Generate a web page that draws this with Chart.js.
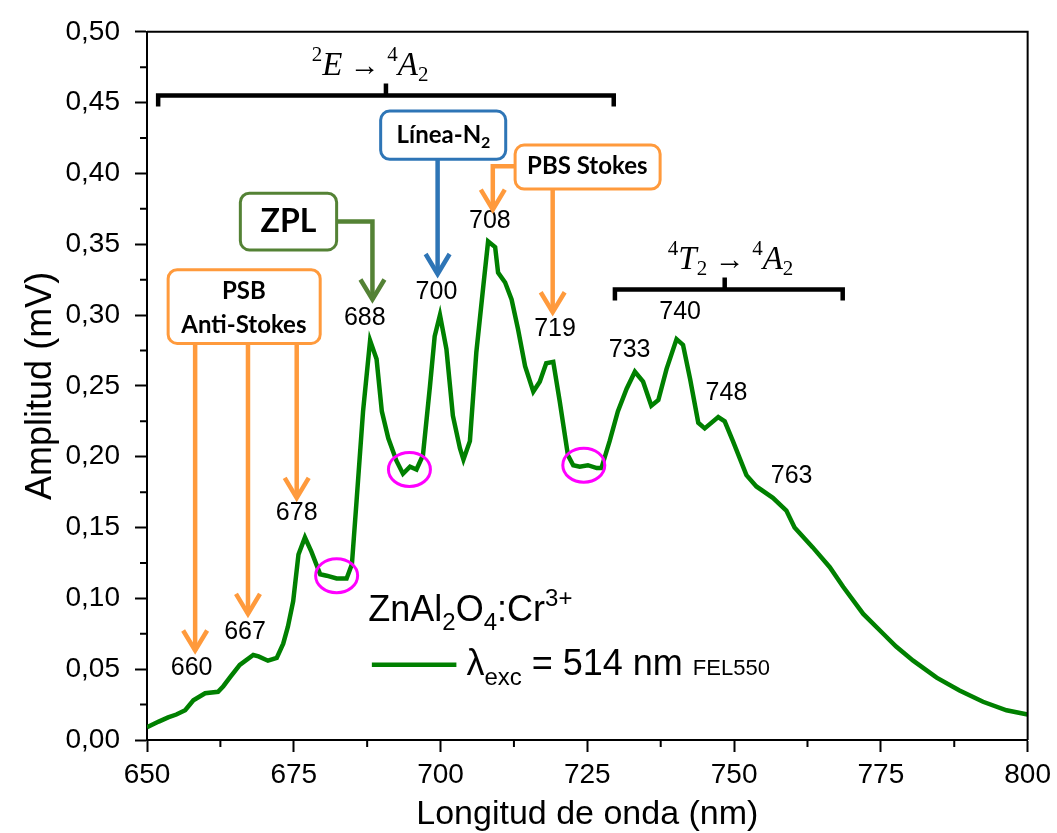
<!DOCTYPE html>
<html>
<head>
<meta charset="utf-8">
<script src="https://cdn.jsdelivr.net/npm/chart.js@4"></script>
<style>
  body { margin: 0; background: #fff; }
</style>
</head>
<body>
<canvas id="spectrum" width="1057" height="833"></canvas>
<script>
// Emission spectrum: wavelength (nm) / amplitude (mV)
const wavelength = [650.0, 652.0, 653.6, 655.0, 656.5, 657.9, 659.9, 662.1, 663.0, 664.1,
  665.8, 668.1, 669.0, 670.6, 672.1, 673.2, 674.0, 674.9, 675.8, 676.9,
  678.0, 679.5, 680.6, 682.3, 684.0, 684.9, 685.7, 686.8, 688.0, 689.1,
  690.0, 691.1, 692.5, 693.6, 694.8, 695.9, 697.0, 698.2, 699.0, 699.9,
  701.0, 702.1, 703.3, 703.9, 705.0, 706.1, 707.3, 708.1, 709.3, 709.8,
  711.0, 712.1, 713.2, 714.4, 715.8, 716.9, 718.0, 719.2, 720.3, 721.7,
  722.6, 723.7, 725.1, 726.6, 727.4, 728.8, 730.2, 731.7, 733.1, 734.5,
  735.9, 737.1, 738.5, 740.2, 741.3, 742.5, 743.9, 745.0, 747.3, 748.4,
  749.8, 752.1, 753.8, 756.6, 758.9, 760.3, 763.4, 766.3, 768.6, 772.0,
  775.4, 777.6, 780.5, 784.5, 788.4, 792.4, 796.4, 800.0];
const amplitude = [0.009, 0.013, 0.016, 0.018, 0.021, 0.028, 0.033, 0.034, 0.038, 0.044,
  0.053, 0.060, 0.059, 0.056, 0.058, 0.068, 0.080, 0.098, 0.131, 0.143,
  0.133, 0.117, 0.116, 0.114, 0.114, 0.124, 0.169, 0.232, 0.282, 0.269,
  0.232, 0.213, 0.197, 0.188, 0.193, 0.191, 0.201, 0.250, 0.285, 0.300,
  0.276, 0.229, 0.206, 0.198, 0.211, 0.274, 0.321, 0.352, 0.348, 0.330,
  0.323, 0.311, 0.290, 0.264, 0.246, 0.253, 0.266, 0.267, 0.239, 0.201,
  0.194, 0.193, 0.194, 0.192, 0.192, 0.211, 0.232, 0.248, 0.260, 0.253,
  0.236, 0.240, 0.262, 0.283, 0.279, 0.255, 0.224, 0.220, 0.228, 0.225,
  0.211, 0.187, 0.179, 0.171, 0.162, 0.150, 0.136, 0.122, 0.108, 0.089,
  0.075, 0.066, 0.056, 0.044, 0.035, 0.027, 0.021, 0.018];

const xTicks = [650, 675, 700, 725, 750, 775, 800];
const yTicks = [0, 0.05, 0.10, 0.15, 0.20, 0.25, 0.30, 0.35, 0.40, 0.45, 0.50];

// peak labels (nm, mV of the label centre)
const peakNames = ['660', '667', '678', '688', '700', '708', '719', '733', '740', '748', '763'];
const peakLabelX = [657.6, 666.7, 675.5, 687.1, 699.3, 708.4, 719.5, 732.2, 740.8, 748.7, 759.8];
const peakLabelY = [0.051, 0.076, 0.160, 0.298, 0.316, 0.366, 0.290, 0.275, 0.302, 0.245, 0.186];

// circled dips
const dipX = [682.3, 694.7, 724.4];
const dipY = [0.116, 0.191, 0.194];

const SANS = '"Liberation Sans", Arial, sans-serif';
const BOLD = 'Lato, "Open Sans", sans-serif';
const SERIF = '"Liberation Serif", "DejaVu Serif", serif';
const LINE_GREEN = '#008000';
const ORANGE = '#ff9a3c';
const BLUE = '#2e75b6';
const OLIVE = '#548235';
const MAGENTA = '#ff00ff';

// text made of pieces with different fonts / vertical shifts (sub & superscripts)
function rich(ctx, parts, x, y, align) {
  let total = 0;
  parts.forEach(p => { ctx.font = p.f; p.w = ctx.measureText(p.t).width; total += p.w; });
  let cx = align === 'center' ? x - total / 2 : x;
  ctx.textAlign = 'left';
  ctx.textBaseline = 'alphabetic';
  parts.forEach(p => {
    ctx.font = p.f;
    ctx.fillText(p.t, cx, y + (p.dy || 0));
    cx += p.w;
  });
}

function arrow(ctx, pts, color) {
  ctx.strokeStyle = color;
  ctx.lineWidth = 4.5;
  ctx.lineJoin = 'miter';
  ctx.beginPath();
  pts.forEach(([x, y], i) => i ? ctx.lineTo(x, y) : ctx.moveTo(x, y));
  ctx.stroke();
  const [tx, ty] = pts[pts.length - 1];
  ctx.beginPath();
  ctx.moveTo(tx - 12, ty - 20);
  ctx.lineTo(tx, ty);
  ctx.lineTo(tx + 12, ty - 20);
  ctx.stroke();
}

function box(ctx, x1, y1, x2, y2, color) {
  ctx.beginPath();
  ctx.roundRect(x1, y1, x2 - x1, y2 - y1, 9);
  ctx.fillStyle = '#fff';
  ctx.fill();
  ctx.strokeStyle = color;
  ctx.lineWidth = 3;
  ctx.stroke();
}

function bracket(ctx, x1, x2, y, xm) {
  ctx.strokeStyle = '#000';
  ctx.lineWidth = 4.5;
  ctx.lineJoin = 'miter';
  ctx.beginPath();
  ctx.moveTo(x1, y + 11);
  ctx.lineTo(x1, y);
  ctx.lineTo(x2, y);
  ctx.lineTo(x2, y + 11);
  ctx.moveTo(xm, y);
  ctx.lineTo(xm, y - 12);
  ctx.stroke();
}

// closed frame + minor ticks
const frame = {
  id: 'frame',
  afterDraw(chart) {
    const { ctx, chartArea: a, scales: { x, y } } = chart;
    ctx.save();
    ctx.strokeStyle = '#000';
    ctx.lineWidth = 2;
    ctx.beginPath();
    ctx.moveTo(a.left, a.top);
    ctx.lineTo(a.right, a.top);
    ctx.lineTo(a.right, a.bottom);
    for (let i = 0; i < xTicks.length - 1; i++) {
      const px = x.getPixelForValue((xTicks[i] + xTicks[i + 1]) / 2);
      ctx.moveTo(px, a.bottom);
      ctx.lineTo(px, a.bottom + 7);
    }
    for (let i = 0; i < yTicks.length - 1; i++) {
      const py = y.getPixelForValue((yTicks[i] + yTicks[i + 1]) / 2);
      ctx.moveTo(a.left, py);
      ctx.lineTo(a.left - 7, py);
    }
    ctx.stroke();
    ctx.restore();
  }
};

const annotate = {
  id: 'annotate',
  afterDatasetsDraw(chart) {
    const ctx = chart.ctx;
    const X = v => chart.scales.x.getPixelForValue(v);
    const Y = v => chart.scales.y.getPixelForValue(v);
    ctx.save();

    // dips
    ctx.strokeStyle = MAGENTA;
    ctx.lineWidth = 3;
    dipX.forEach((d, i) => {
      ctx.beginPath();
      ctx.ellipse(X(d), Y(dipY[i]), 21, 17, 0, 0, 2 * Math.PI);
      ctx.stroke();
    });

    // peak labels
    ctx.fillStyle = '#000';
    ctx.font = '25px ' + SANS;
    ctx.textAlign = 'center';
    ctx.textBaseline = 'middle';
    peakNames.forEach((t, i) => ctx.fillText(t, X(peakLabelX[i]), Y(peakLabelY[i])));

    // arrows
    arrow(ctx, [[X(682.3), Y(0.366)], [X(688.4), Y(0.366)], [X(688.4), Y(0.311)]], OLIVE);
    arrow(ctx, [[X(658.2), Y(0.280)], [X(658.2), Y(0.0632)]], ORANGE);
    arrow(ctx, [[X(667.2), Y(0.280)], [X(667.2), Y(0.089)]], ORANGE);
    arrow(ctx, [[X(675.5), Y(0.280)], [X(675.5), Y(0.171)]], ORANGE);
    arrow(ctx, [[X(699.5), Y(0.410)], [X(699.5), Y(0.329)]], BLUE);
    arrow(ctx, [[X(712.7), Y(0.405)], [X(708.9), Y(0.405)], [X(708.9), Y(0.3745)]], ORANGE);
    arrow(ctx, [[X(719.1), Y(0.389)], [X(719.1), Y(0.302)]], ORANGE);

    // boxes
    box(ctx, X(665.9), Y(0.386), X(682.3), Y(0.346), OLIVE);
    box(ctx, X(653.6), Y(0.332), X(679.5), Y(0.280), ORANGE);
    box(ctx, X(689.8), Y(0.444), X(711.1), Y(0.410), BLUE);
    box(ctx, X(712.7), Y(0.420), X(737.4), Y(0.389), ORANGE);

    ctx.fillStyle = '#000';
    ctx.textAlign = 'center';
    ctx.textBaseline = 'middle';
    ctx.font = 'bold 32px ' + BOLD;
    ctx.fillText('ZPL', X(674.1), Y(0.366));
    ctx.font = 'bold 24px ' + BOLD;
    ctx.fillText('PSB', X(666.5), Y(0.317));
    ctx.fillText('Anti-Stokes', X(666.5), Y(0.293));
    ctx.fillText('PBS Stokes', X(725.0), Y(0.405));
    rich(ctx, [
      { t: 'Línea-N', f: 'bold 24px ' + BOLD },
      { t: '2', f: 'bold 16px ' + BOLD, dy: 5 }
    ], X(700.5), Y(0.427) + 8, 'center');

    // transition brackets
    bracket(ctx, X(651.9), X(729.5), Y(0.455), X(690.7));
    bracket(ctx, X(729.7), X(768.5), Y(0.318), X(748.4));
    const sup = '21px ' + SERIF, main = 'italic 33px ' + SERIF, arr = '30px ' + SERIF;
    rich(ctx, [
      { t: '2', f: sup, dy: -14 }, { t: 'E', f: main }, { t: ' \u2192 ', f: arr },
      { t: '4', f: sup, dy: -14 }, { t: 'A', f: main }, { t: '2', f: sup, dy: 6 }
    ], X(688), Y(0.4698), 'center');
    rich(ctx, [
      { t: '4', f: sup, dy: -14 }, { t: 'T', f: main }, { t: '2', f: sup, dy: 6 },
      { t: ' \u2192 ', f: arr },
      { t: '4', f: sup, dy: -14 }, { t: 'A', f: main }, { t: '2', f: sup, dy: 6 }
    ], X(749.4), Y(0.3325), 'center');

    // legend
    const big = '36px ' + SANS, small = '24px ' + SANS;
    rich(ctx, [
      { t: 'ZnAl', f: big }, { t: '2', f: small, dy: 9 }, { t: 'O', f: big },
      { t: '4', f: small, dy: 9 }, { t: ':Cr', f: big }, { t: '3+', f: small, dy: -15 }
    ], X(687.7), Y(0.0843), 'left');
    ctx.strokeStyle = LINE_GREEN;
    ctx.lineWidth = 4.5;
    ctx.beginPath();
    ctx.moveTo(X(688.3), Y(0.0532));
    ctx.lineTo(X(702.7), Y(0.0532));
    ctx.stroke();
    rich(ctx, [
      { t: '\u03bb', f: big }, { t: 'exc', f: small, dy: 10 },
      { t: ' = 514 nm ', f: big }, { t: 'FEL550', f: '22px ' + SANS }
    ], X(704.4), Y(0.0456), 'left');

    ctx.restore();
  }
};

new Chart(document.getElementById('spectrum'), {
  type: 'line',
  data: {
    datasets: [{
      data: wavelength.map((w, i) => ({ x: w, y: amplitude[i] })),
      borderColor: LINE_GREEN,
      borderWidth: 4.5,
      pointRadius: 0,
      tension: 0,
      fill: false,
    }]
  },
  options: {
    responsive: false,
    animation: false,
    layout: { padding: { top: 28, right: 29, left: 0, bottom: 0 } },
    plugins: { legend: { display: false }, tooltip: { enabled: false } },
    scales: {
      x: {
        type: 'linear',
        min: 650,
        max: 800,
        afterBuildTicks: s => { s.ticks = xTicks.map(v => ({ value: v })); },
        afterFit: s => { s.height = 93; },
        grid: { drawOnChartArea: false, tickLength: 12, tickWidth: 2, tickColor: '#000' },
        border: { color: '#000', width: 2 },
        ticks: { color: '#000', font: { family: SANS, size: 28 }, padding: 6, maxRotation: 0, autoSkip: false },
        title: { display: true, text: 'Longitud de onda (nm)', color: '#000',
                 font: { family: SANS, size: 34, lineHeight: 1 }, padding: { top: 1, bottom: 1 } }
      },
      y: {
        min: 0,
        max: 0.5,
        afterBuildTicks: s => { s.ticks = yTicks.map(v => ({ value: v })); },
        afterFit: s => { s.width = 147; },
        grid: { drawOnChartArea: false, tickLength: 12, tickWidth: 2, tickColor: '#000' },
        border: { color: '#000', width: 2 },
        ticks: { color: '#000', font: { family: SANS, size: 28 }, padding: 15,
                 callback: v => v.toFixed(2).replace('.', ',') },
        title: { display: true, text: 'Amplitud (mV)', color: '#000',
                 font: { family: SANS, size: 36, lineHeight: 1 }, padding: { top: 23, bottom: 0 } }
      }
    }
  },
  plugins: [frame, annotate]
});
</script>
</body>
</html>
